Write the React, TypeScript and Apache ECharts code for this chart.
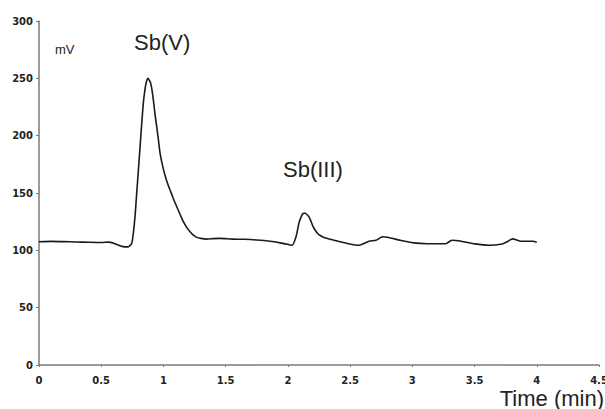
import React, { useEffect, useRef } from "react";
import * as echarts from "echarts";

const timeMin: number[] = [
  0, 0.1, 0.2, 0.3, 0.4, 0.5, 0.56, 0.6, 0.65, 0.69, 0.72, 0.745, 0.758, 0.772, 0.785,
  0.8, 0.812, 0.825, 0.838, 0.85, 0.86, 0.874, 0.886, 0.898, 0.909, 0.919, 0.932, 0.946,
  0.96, 0.973, 0.999, 1.025, 1.053, 1.08, 1.107, 1.135, 1.16, 1.187, 1.214, 1.24, 1.268,
  1.3, 1.348, 1.4, 1.455, 1.55, 1.65, 1.75, 1.857, 1.939, 2.0, 2.035, 2.063, 2.077, 2.09,
  2.104, 2.117, 2.13, 2.14, 2.155, 2.172, 2.186, 2.2, 2.22, 2.241, 2.27, 2.296, 2.35,
  2.406, 2.488, 2.57, 2.61, 2.653, 2.707, 2.762, 2.817, 2.9, 3.009, 3.119, 3.27, 3.295,
  3.319, 3.393, 3.503, 3.613, 3.723, 3.77, 3.805, 3.874, 3.969, 4.0,
];

const signalMv: number[] = [
  107.5, 107.8, 107.6, 107.3, 107.0, 106.8, 107.2, 106.2, 104.0, 103.0, 103.2, 106.0,
  114.8, 130.0, 149.7, 172.0, 190.0, 210.0, 228.0, 239.0, 245.6, 250.0, 248.5, 245.6,
  239.0, 231.0, 219.0, 207.8, 196.0, 184.6, 171.0, 161.0, 152.6, 145.0, 138.0, 131.0,
  125.0, 120.0, 116.2, 113.2, 111.3, 110.4, 109.8, 110.2, 110.4, 109.8, 109.6, 109.0,
  107.9, 106.5, 105.2, 104.4, 110.9, 117.5, 124.3, 128.5, 131.7, 132.3, 132.3, 131.0,
  128.8, 125.2, 121.4, 117.5, 114.5, 112.3, 110.9, 109.4, 107.9, 105.8, 104.4, 106.0,
  107.9, 108.8, 111.8, 110.9, 108.8, 106.5, 105.8, 105.8, 107.5, 108.8, 107.9, 105.6,
  104.4, 105.6, 108.0, 110.0, 107.9, 107.9, 107.0,
];

const xTicks: number[] = [0, 0.5, 1, 1.5, 2, 2.5, 3, 3.5, 4, 4.5];
const yTicks: number[] = [0, 50, 100, 150, 200, 250, 300];

const labelFont = "'Liberation Sans', Arial, sans-serif";

export default function App() {
  const ref = useRef<HTMLDivElement>(null);

  useEffect(() => {
    if (!ref.current) return;
    const chart = echarts.init(ref.current, null, { renderer: "svg" });
    const data = timeMin.map((t, i) => [t, signalMv[i]]);
    const axisColor = "#7a7a7a";
    const tickLabel = {
      color: "#222",
      fontFamily: "'DejaVu Sans', Verdana, sans-serif",
      fontWeight: "bold" as const,
      fontSize: 10,
    };
    chart.setOption({
      animation: false,
      backgroundColor: "#ffffff",
      grid: {
        left: 39,
        right: 6,
        top: 21,
        bottom: 44,
        containLabel: false,
        outerBoundsMode: "none",
      },
      xAxis: {
        type: "value",
        min: xTicks[0],
        max: xTicks[xTicks.length - 1],
        interval: 0.5,
        axisLine: { show: true, lineStyle: { color: axisColor, width: 1.5 } },
        axisTick: { show: true, length: 2, lineStyle: { color: axisColor } },
        splitLine: { show: false },
        axisLabel: { ...tickLabel, margin: 10, showMaxLabel: true },
      },
      yAxis: {
        type: "value",
        min: yTicks[0],
        max: yTicks[yTicks.length - 1],
        interval: 50,
        axisLine: { show: true, lineStyle: { color: axisColor, width: 1.5 } },
        axisTick: { show: true, length: 3, lineStyle: { color: axisColor } },
        splitLine: { show: false },
        axisLabel: { ...tickLabel, margin: 6 },
      },
      series: [
        {
          type: "line",
          data,
          smooth: 0.2,
          showSymbol: false,
          lineStyle: { color: "#1a1a1a", width: 1.6 },
        },
      ],
      graphic: [
        {
          type: "text",
          left: 55,
          top: 43,
          style: { text: "mV", font: `13px ${labelFont}`, fill: "#222" },
        },
        {
          type: "text",
          left: 134,
          top: 31,
          style: { text: "Sb(V)", font: `22px ${labelFont}`, fill: "#222" },
        },
        {
          type: "text",
          left: 283,
          top: 158,
          style: { text: "Sb(III)", font: `22px ${labelFont}`, fill: "#222" },
        },
        {
          type: "text",
          right: 1,
          top: 387,
          style: { text: "Time (min)", font: `22px ${labelFont}`, fill: "#222" },
        },
      ],
    });
    return () => chart.dispose();
  }, []);

  return (
    <div
      ref={ref}
      style={{ position: "fixed", left: 0, top: 0, width: 605, height: 409 }}
    />
  );
}
